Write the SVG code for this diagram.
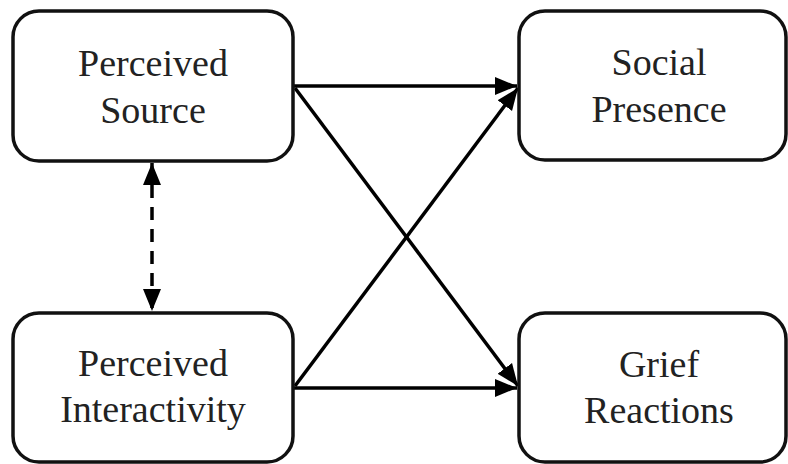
<svg xmlns="http://www.w3.org/2000/svg" width="788" height="464" viewBox="0 0 788 464">
<style>
.box{fill:#fff;stroke:#111;stroke-width:3.5}
.lbl{font-family:"Liberation Serif","Times New Roman",serif;font-size:38px;fill:#222;text-anchor:middle}
.conn{stroke:#000;stroke-width:3.5;fill:none}
.dash{stroke-dasharray:13 9}
</style>
<defs>
<marker id="ah" markerUnits="userSpaceOnUse" markerWidth="24" markerHeight="20" refX="22" refY="10" orient="auto-start-reverse">
<path d="M0,1 L22,10 L0,19 Z" fill="#000"/>
</marker>
</defs>
<rect width="788" height="464" fill="#fff"/>
<g id="connectors">
<line class="conn" x1="293" y1="86" x2="517" y2="86" marker-end="url(#ah)"/>
<line class="conn" x1="293" y1="388" x2="517" y2="388" marker-end="url(#ah)"/>
<line class="conn" x1="295" y1="88" x2="518" y2="386" marker-end="url(#ah)"/>
<line class="conn" x1="295" y1="386" x2="518" y2="88" marker-end="url(#ah)"/>
<line class="conn dash" x1="152" y1="163" x2="152" y2="311" marker-start="url(#ah)" marker-end="url(#ah)"/>
</g>
<g id="perceived-source">
<rect class="box" x="13" y="11" width="280" height="150" rx="26"/>
<text class="lbl" x="153" y="76">Perceived</text>
<text class="lbl" x="153" y="123">Source</text>
</g>
<g id="perceived-interactivity">
<rect class="box" x="13" y="313" width="280" height="149" rx="26"/>
<text class="lbl" x="153" y="376">Perceived</text>
<text class="lbl" x="153" y="422">Interactivity</text>
</g>
<g id="social-presence">
<rect class="box" x="519" y="11" width="267" height="149" rx="26"/>
<text class="lbl" x="659" y="75">Social</text>
<text class="lbl" x="659" y="122">Presence</text>
</g>
<g id="grief-reactions">
<rect class="box" x="519" y="313" width="267" height="149" rx="26"/>
<text class="lbl" x="659" y="377">Grief</text>
<text class="lbl" x="659" y="423">Reactions</text>
</g>
</svg>
